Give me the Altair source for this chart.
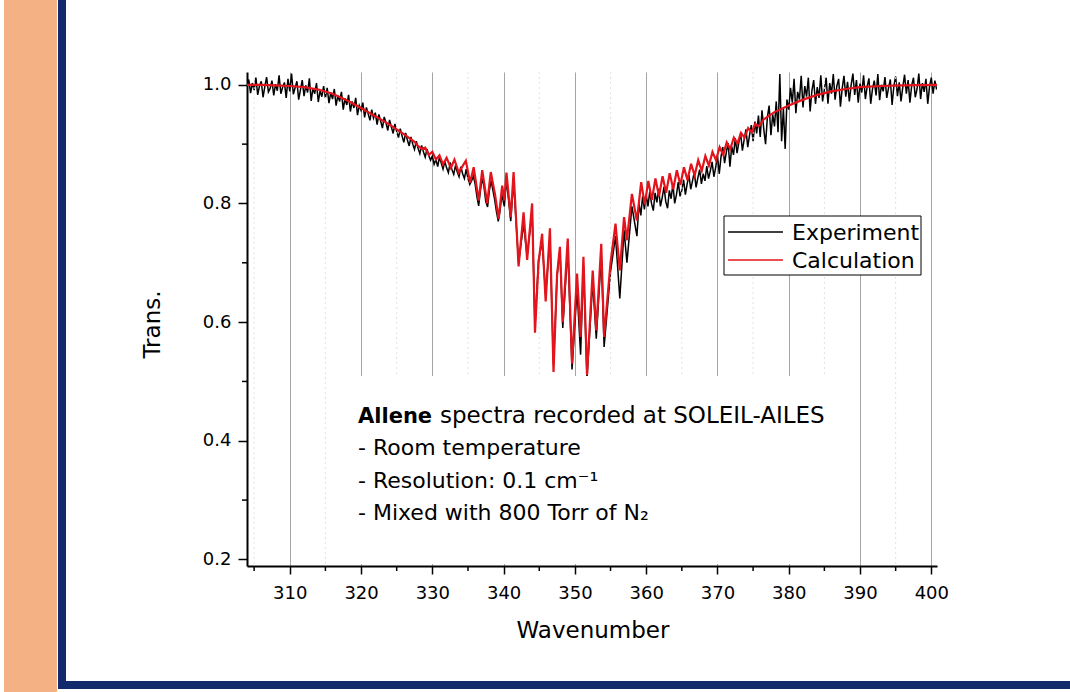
import altair as alt
import pandas as pd

# ---------------- data ----------------
# Calculation (red): wavenumber / transmission
calc_wn = [304.0, 306.0, 308.0, 310.0, 312.0, 314.0, 316.0, 318.0, 320.0, 322.0,
           324.0, 326.0, 327.5, 328.0, 328.5, 329.0, 329.5, 330.0, 330.5, 331.0,
           331.5, 332.0, 332.6, 333.1, 333.7, 334.7, 335.3, 335.8, 336.5, 337.0,
           337.7, 338.2, 338.8, 339.3, 339.8, 340.1, 340.4, 341.0, 341.4, 342.1,
           342.8, 343.3, 344.0, 344.4, 344.9, 345.4, 345.9, 346.5, 347.0, 347.5,
           347.9, 348.3, 349.0, 349.6, 350.3, 350.8, 351.2, 351.7, 352.5, 353.0,
           353.7, 354.1, 355.0, 355.7, 356.3, 356.9, 357.3, 358.0, 358.7, 359.3,
           359.8, 360.3, 360.8, 361.3, 361.8, 362.3, 362.8, 363.3, 363.8, 364.3,
           364.8, 365.3, 365.8, 366.3, 366.8, 367.3, 367.8, 368.3, 368.8, 369.3,
           369.8, 370.3, 370.8, 371.3, 371.8, 372.3, 372.8, 373.3, 373.8, 374.3,
           374.8, 375.3, 375.8, 376.5, 378.0, 380.0, 382.0, 384.0, 386.0, 388.0,
           390.0, 393.0, 396.0, 400.8]
calc_tr = [1.000, 1.000, 0.999, 0.998, 0.996, 0.992, 0.985, 0.974, 0.961, 0.947,
           0.933, 0.917, 0.904, 0.897, 0.892, 0.894, 0.882, 0.887, 0.874, 0.881,
           0.866, 0.877, 0.860, 0.874, 0.852, 0.872, 0.835, 0.861, 0.805, 0.856,
           0.800, 0.853, 0.815, 0.774, 0.830, 0.805, 0.852, 0.777, 0.853, 0.694,
           0.785, 0.705, 0.800, 0.582, 0.700, 0.749, 0.635, 0.758, 0.516, 0.680,
           0.727, 0.600, 0.741, 0.530, 0.682, 0.575, 0.710, 0.511, 0.687, 0.586,
           0.732, 0.575, 0.700, 0.766, 0.687, 0.777, 0.738, 0.816, 0.771, 0.836,
           0.798, 0.838, 0.806, 0.842, 0.812, 0.846, 0.818, 0.851, 0.824, 0.856,
           0.831, 0.861, 0.839, 0.867, 0.847, 0.873, 0.855, 0.880, 0.864, 0.887,
           0.873, 0.895, 0.882, 0.903, 0.892, 0.911, 0.901, 0.919, 0.911, 0.927,
           0.920, 0.934, 0.930, 0.942, 0.954, 0.965, 0.975, 0.983, 0.989, 0.993,
           0.996, 0.998, 0.999, 1.000]

# Experiment (black): left wing sampled every 0.25 from 304.0
exp_left_start = 304.0
exp_left_tr = [
    0.995, 1.009, 0.986, 1.003, 0.991, 1.012, 0.983, 0.998, 1.006, 0.979, 0.997, 1.013,
    0.988, 0.994, 1.007, 0.982, 1.001, 0.990, 1.016, 0.985, 0.996, 1.004, 0.978, 1.010,
    0.989, 1.019, 0.984, 0.995, 1.006, 0.975, 0.992, 1.008, 0.981, 0.999, 0.987, 1.011,
    0.973, 0.994, 0.985, 1.003, 0.971, 0.990, 0.980, 0.998,
    0.978, 0.995, 0.969, 0.987, 0.976, 0.993, 0.965, 0.982, 0.972, 0.988, 0.958, 0.977,
    0.966, 0.983, 0.955, 0.972, 0.961, 0.978, 0.949, 0.965,
    0.957, 0.970, 0.945, 0.962, 0.951, 0.940, 0.958, 0.944, 0.953, 0.933, 0.950, 0.939,
    0.927, 0.946, 0.936, 0.923, 0.941, 0.929, 0.918, 0.934,
    0.921, 0.911, 0.926, 0.914, 0.903, 0.919, 0.907, 0.897, 0.912, 0.900, 0.891, 0.905,
    0.893, 0.884, 0.898, 0.887, 0.878, 0.892, 0.881, 0.873,
    0.880, 0.866, 0.874, 0.862, 0.878, 0.868, 0.858, 0.871, 0.860, 0.852, 0.869, 0.857,
    0.849, 0.864, 0.853, 0.845, 0.862, 0.850, 0.842, 0.858,
    0.842, 0.832, 0.838, 0.846, 0.833, 0.812, 0.796, 0.822, 0.843, 0.828, 0.803, 0.794,
    0.822, 0.838, 0.822, 0.806, 0.786, 0.770, 0.788, 0.815]
# Experiment: band centre, at the resolved line positions
exp_mid_wn = [340.1, 340.4, 341.0, 341.4, 342.1, 342.8, 343.3, 344.0, 344.4, 344.9,
              345.4, 345.9, 346.5, 347.0, 347.5, 347.9, 348.3, 349.0, 349.6, 350.3,
              350.8, 351.2, 351.7, 352.5, 353.0, 353.7, 354.1, 355.0, 355.7, 356.3,
              356.9, 357.3, 358.0, 358.7]
exp_mid_tr = [0.795, 0.840, 0.770, 0.838, 0.700, 0.765, 0.712, 0.785, 0.595, 0.705,
              0.735, 0.648, 0.742, 0.528, 0.678, 0.722, 0.590, 0.725, 0.520, 0.655,
              0.545, 0.695, 0.505, 0.668, 0.572, 0.712, 0.558, 0.685, 0.745, 0.640,
              0.755, 0.700, 0.795, 0.745]
# Experiment: right wing sampled every 0.25 from 359.0
exp_right_start = 359.0
exp_right_tr = [
    0.800, 0.780, 0.812, 0.790,
    0.815, 0.795, 0.820, 0.800, 0.788, 0.818, 0.802, 0.825, 0.795, 0.810, 0.828, 0.803,
    0.792, 0.822, 0.808, 0.833, 0.800, 0.815, 0.836, 0.812,
    0.822, 0.840, 0.815, 0.833, 0.848, 0.824, 0.838, 0.853, 0.827, 0.843, 0.857, 0.833,
    0.850, 0.838, 0.863, 0.842, 0.855, 0.870, 0.845, 0.861,
    0.881, 0.850, 0.879, 0.895, 0.868, 0.887, 0.902, 0.862, 0.896, 0.882, 0.910, 0.885,
    0.903, 0.918, 0.889, 0.908, 0.925, 0.895, 0.915, 0.932,
    0.905, 0.938, 0.918, 0.948, 0.912, 0.957, 0.925, 0.900, 0.945, 0.965, 0.915, 0.950,
    0.930, 0.972, 0.920, 1.018, 0.905, 0.960, 0.892, 0.975,
    0.958, 0.995, 0.970, 1.010, 0.952, 0.988, 0.975, 1.015, 0.962, 0.998, 0.980, 1.012,
    0.955, 0.990, 1.008, 0.968, 0.996, 0.978, 1.016, 0.972,
    0.992, 1.012, 0.968, 1.003, 0.985, 1.018, 0.975, 0.998, 1.010, 0.963, 0.994, 1.015,
    0.980, 1.005, 0.972, 0.999, 1.019, 0.983, 1.008, 0.970,
    1.002, 0.987, 1.016, 0.976, 0.997, 1.011, 0.968, 0.993, 1.007, 0.982, 1.018, 0.974,
    1.000, 0.989, 1.013, 0.978, 0.995, 1.009, 0.966, 0.998,
    1.014, 0.981, 1.004, 0.972, 0.996, 1.017, 0.985, 1.008, 0.970, 0.999, 1.012, 0.979,
    0.993, 1.019, 0.976, 1.003, 0.988, 1.010, 0.968, 0.997,
    1.012, 0.985, 1.007, 0.992]
exp_step = 0.25

x_ticks = [310, 320, 330, 340, 350, 360, 370, 380, 390, 400]
x_minor = [305, 315, 325, 335, 345, 355, 365, 375, 385, 395]
y_ticks = [0.2, 0.4, 0.6, 0.8, 1.0]
y_minor = [0.3, 0.5, 0.7, 0.9]

note_title_bold = "Allene"
note_title_rest = "spectra recorded at SOLEIL-AILES"
notes = ["- Room temperature", "- Resolution: 0.1 cm\u207b\u00b9",
         "- Mixed with 800 Torr of N\u2082"]
series_names = ["Experiment", "Calculation"]

# ---------------- tables ----------------
exp_wn = ([exp_left_start + exp_step * i for i in range(len(exp_left_tr))]
          + exp_mid_wn
          + [exp_right_start + exp_step * i for i in range(len(exp_right_tr))])
exp_tr = exp_left_tr + exp_mid_tr + exp_right_tr
exp_df = pd.DataFrame({"wn": exp_wn, "tr": exp_tr})
calc_df = pd.DataFrame({"wn": calc_wn, "tr": calc_tr})

XD = [304.0, 400.8]
YD = [0.1889, 1.0216]
W, H = 690, 494
FONT = "DejaVu Sans"
RED = "#E3141B"
NAVY = "#102A6B"
XT, YT = "Wavenumber", "Trans."
xs = alt.Scale(domain=XD, nice=False, zero=False)
ys = alt.Scale(domain=YD, nice=False, zero=False)
one = pd.DataFrame({"k": [0]})

x_axis = alt.Axis(values=x_ticks, format="d", grid=True, gridColor="#a4a4a4",
                  gridWidth=1, tickSize=8, tickWidth=1.5, tickColor="black",
                  domainColor="black", domainWidth=2, labelFontSize=18,
                  labelFont=FONT, labelColor="black", labelBaseline="alphabetic",
                  labelPadding=24, labelFlush=False, titleFontSize=23,
                  titleFont=FONT, titleFontWeight="normal", titleColor="black",
                  titleX=345.5, titleY=71, titleBaseline="alphabetic",
                  titleAlign="center")
y_axis = alt.Axis(values=y_ticks, format=".1f", grid=False, tickSize=9,
                  tickWidth=1.5, tickColor="black", domainColor="black",
                  domainWidth=2, labelFontSize=18, labelFont=FONT,
                  labelColor="black", labelPadding=7, labelFlush=False,
                  titleFontSize=23, titleFont=FONT, titleFontWeight="normal",
                  titleColor="black", titleAngle=270, titleX=-95, titleY=252,
                  titleAlign="center", titleBaseline="middle")


def X(field):
    return alt.X(field, scale=xs, title=XT, axis=x_axis)


def Y(field):
    return alt.Y(field, scale=ys, title=YT, axis=y_axis)


base_black = alt.Chart(exp_df).mark_line(color="black", strokeWidth=1.5, clip=True).encode(
    x=X("wn:Q"), y=Y("tr:Q"), order="wn:Q")

minor_grid = alt.Chart(pd.DataFrame({"v": x_minor})).mark_rule(
    color="#e2e2e2", strokeDash=[2, 3], strokeWidth=1).encode(
    x=X("v:Q"), y=alt.value(0), y2=alt.value(H))

white_box = alt.Chart(pd.DataFrame({"a": [318.0], "b": [388.0], "c": [0.1923], "d": [0.509]})
                      ).mark_rect(color="white").encode(
    x=X("a:Q"), x2="b", y=Y("c:Q"), y2="d")

red = alt.Chart(calc_df).mark_line(color=RED, strokeWidth=2.2, clip=True).encode(
    x=X("wn:Q"), y=Y("tr:Q"), order="wn:Q")

xminor_ticks = alt.Chart(pd.DataFrame({"v": x_minor})).mark_rule(
    color="black", strokeWidth=1.5).encode(
    x=X("v:Q"), y=alt.value(H), y2=alt.value(H + 5))
yminor_ticks = alt.Chart(pd.DataFrame({"v": y_minor})).mark_rule(
    color="black", strokeWidth=1.5).encode(
    y=Y("v:Q"), x=alt.value(-5), x2=alt.value(0))


def deco_rect(x, x2, y, y2, **kw):
    return alt.Chart(one).mark_rect(**kw).encode(
        x=alt.value(x), x2=alt.value(x2), y=alt.value(y), y2=alt.value(y2))


def deco_text(txt, x, y, size, weight="normal"):
    return alt.Chart(one).mark_text(
        text=txt, align="left", baseline="alphabetic", font=FONT, fontSize=size,
        fontWeight=weight, color="black").encode(x=alt.value(x), y=alt.value(y))


def deco_rule(x, x2, y, color):
    return alt.Chart(one).mark_rule(color=color, strokeWidth=1.6).encode(
        x=alt.value(x), x2=alt.value(x2), y=alt.value(y))


# slide frame
frame_orange = deco_rect(-243, -190, -72, 620, color="#F4B183")
frame_navy_v = deco_rect(-189, -181, -72, 617, color=NAVY)
frame_navy_h = deco_rect(-189, 823, 609, 617, color=NAVY)

# annotation
t1 = deco_text(note_title_bold, 111, 351, 21, "bold")
t2 = deco_text(note_title_rest, 193, 351, 23)
t3 = deco_text(notes[0], 111, 383, 22)
t4 = deco_text(notes[1], 111, 416, 22)
t5 = deco_text(notes[2], 111, 448, 22)

# legend
leg_box = deco_rect(477, 674, 144, 203, fill="white", stroke="black", strokeWidth=1)
leg_l1 = deco_rule(481, 536, 160, "black")
leg_l2 = deco_rule(481, 536, 188, RED)
leg_t1 = deco_text(series_names[0], 545, 168, 22)
leg_t2 = deco_text(series_names[1], 545, 196, 22)

chart = alt.layer(
    base_black, minor_grid, white_box, red, xminor_ticks, yminor_ticks,
    frame_orange, frame_navy_v, frame_navy_h,
    t1, t2, t3, t4, t5, leg_box, leg_l1, leg_l2, leg_t1, leg_t2
).properties(
    width=W, height=H,
    autosize=alt.AutoSizeParams(type="none"),
    padding={"left": 247, "top": 72, "right": 133, "bottom": 126},
    background="white"
).configure(font=FONT).configure_view(stroke=None)

chart.save("out.html", embed_options={"renderer": "svg", "actions": False})
